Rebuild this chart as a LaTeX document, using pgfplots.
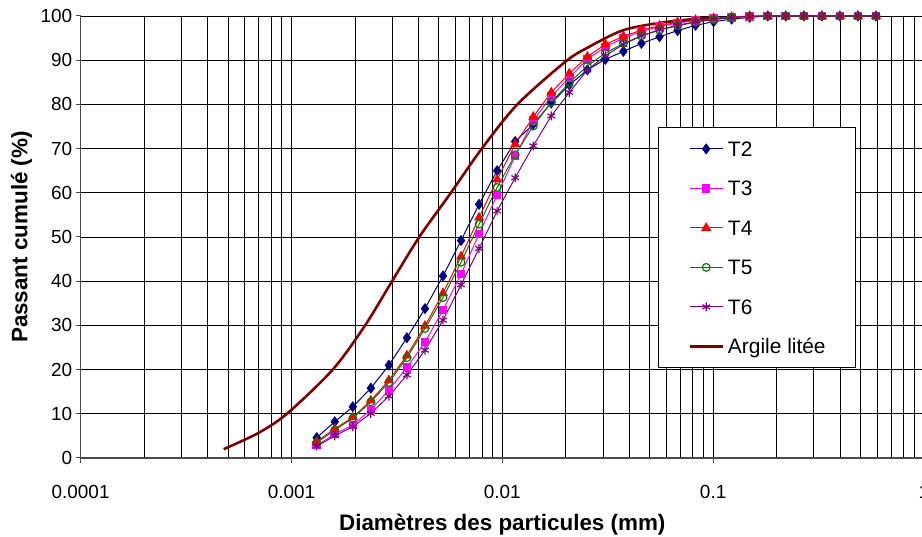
\documentclass[border=0pt]{standalone}
\usepackage{fontspec}
\setmainfont{Liberation Sans}
\usepackage{pgfplots}
\usepackage{pgfplotstable}
\pgfplotsset{compat=1.18}
\definecolor{cTwo}{RGB}{0,0,128}
\definecolor{cThree}{RGB}{255,0,255}
\definecolor{cFour}{RGB}{255,0,0}
\definecolor{cFive}{RGB}{0,128,0}
\definecolor{cSix}{RGB}{128,0,128}
\definecolor{cArg}{RGB}{128,0,0}

% passant cumule (%) par diametre (mm)
\pgfplotstableread{
x        T2    T3    T4    T5    T6
0.001318 4.6   2.9   3.7   3.5   2.7
0.001605 8.2   5.4   6.6   6.3   5.0
0.001955 11.6  7.5   9.2   9.0   7.1
0.002380 15.8  10.9  13.0  12.7  10.1
0.002899 21.0  15.4  17.6  17.1  14.0
0.003530 27.2  20.5  23.2  22.7  18.8
0.004299 33.8  26.2  29.9  29.3  24.4
0.005235 41.2  33.5  37.3  36.3  31.2
0.006375 49.2  41.6  45.6  44.3  39.2
0.007762 57.4  50.7  54.4  52.9  47.4
0.009454 65.0  59.5  63.0  61.2  55.9
0.01151  71.6  68.3  71.0  68.6  63.4
0.01402  75.5  76.3  77.2  75.1  70.6
0.01707  80.3  81.8  82.7  80.5  77.4
0.02079  84.4  86.1  87.0  84.9  82.7
0.02532  87.8  90.2  90.8  88.7  87.8
0.03083  90.2  93.0  93.6  91.6  91.0
0.03754  92.0  95.0  95.4  93.8  93.6
0.04572  93.8  96.5  96.8  95.5  95.5
0.05567  95.3  97.6  97.8  96.8  96.9
0.06780  96.7  98.4  98.6  97.8  97.9
0.08256  97.9  99.0  99.1  98.6  98.7
0.1005   98.7  99.4  99.5  99.2  99.3
0.1224   99.3  99.7  99.8  99.6  99.7
0.1491   99.7  99.9  100   99.9  99.9
0.1816   100   100   100   100   100
0.2211   100   100   100   100   100
0.2692   100   100   100   100   100
0.3279   100   100   100   100   100
0.3993   100   100   100   100   100
0.4862   100   100   100   100   100
0.5921   100   100   100   100   100
}\essais

\pgfplotstableread{
x        y
0.000477 2.0
0.000693 5.6
0.000951 10.0
0.001570 20.0
0.002235 30.0
0.003000 40.0
0.004039 50.0
0.005705 60.0
0.007998 70.0
0.01179  80.0
0.01997  89.7
0.02575  93.0
0.03702  96.7
0.05326  98.3
0.07658  99.2
0.1024   99.7
}\argile

\begin{document}
\begin{tikzpicture}
\path[use as bounding box] (0,0) rectangle (922bp,537bp);
\begin{axis}[
  at={(80.6bp,79bp)}, anchor=south west, scale only axis,
  width=843.4bp, height=442bp,
  xmode=log, xmin=0.0001, xmax=1, ymin=0, ymax=100,
  xtick={0.0001,0.001,0.01,0.1,1},
  xticklabels={0.0001,0.001,0.01,0.1,1},
  minor xtick={0.0002,0.0003,0.0004,0.0005,0.0006,0.0007,0.0008,0.0009,
    0.002,0.003,0.004,0.005,0.006,0.007,0.008,0.009,
    0.02,0.03,0.04,0.05,0.06,0.07,0.08,0.09,
    0.2,0.3,0.4,0.5,0.6,0.7,0.8,0.9},
  ytick={0,10,...,100},
  grid=both,
  major grid style={black, line width=0.7bp},
  minor grid style={black, line width=0.7bp},
  axis lines=left, axis line style={-, black!70, line width=1.3bp},
  tick align=outside, major tick length=5bp, minor tick length=0bp,
  tick style={black!70, line width=1bp},
  ticklabel style={font=\fontsize{19}{19}\selectfont},
  xticklabel style={yshift=-19bp},
  /pgf/number format/assume math mode=true,
  xlabel={Diamètres des particules (mm)},
  ylabel={Passant cumulé (\%)},
  label style={font=\fontsize{22.5}{22.5}\selectfont\bfseries},
  xlabel style={at={(axis description cs:0.5,0)}, anchor=base, yshift=-72bp},
  ylabel style={at={(axis description cs:-0.070,0.5)}, anchor=center},
  clip=false,
  legend image code/.code={\draw[mark repeat=2,mark phase=2]
    plot coordinates {(0bp,0bp) (16.5bp,0bp) (33bp,0bp)};},
  legend style={at={(0.6846,0.7489)}, anchor=north west,
    draw=black, fill=white, line width=0.8bp,
    font=\fontsize{21}{21}\selectfont,
    inner xsep=30bp, inner ysep=10bp, row sep=16.5bp,
    nodes={inner sep=0pt, text height=19bp, text depth=4bp},
    /tikz/every odd column/.style={column sep=4bp}},
  legend cell align=left,
]
\addplot[cTwo, line width=1bp, mark=diamond*, mark size=4.8bp,
  mark options={solid, fill=cTwo}] table[x=x, y=T2] {\essais};
\addplot[cThree, line width=1bp, mark=square*, mark size=3.8bp,
  mark options={solid, fill=cThree}] table[x=x, y=T3] {\essais};
\addplot[cFour, line width=1bp, mark=triangle*, mark size=4.8bp,
  mark options={solid, fill=cFour}] table[x=x, y=T4] {\essais};
\addplot[cFive, line width=1bp, mark=o, mark size=3.9bp,
  mark options={solid, line width=1.2bp}] table[x=x, y=T5] {\essais};
\addplot[cSix, line width=1bp, mark=asterisk, mark size=4.4bp,
  mark options={solid, line width=1.2bp}] table[x=x, y=T6] {\essais};
\addplot[cArg, line width=2.6bp, smooth, no marks] table[x=x, y=y] {\argile};
\legend{T2,T3,T4,T5,T6,Argile litée}
\end{axis}
\end{tikzpicture}
\end{document}
